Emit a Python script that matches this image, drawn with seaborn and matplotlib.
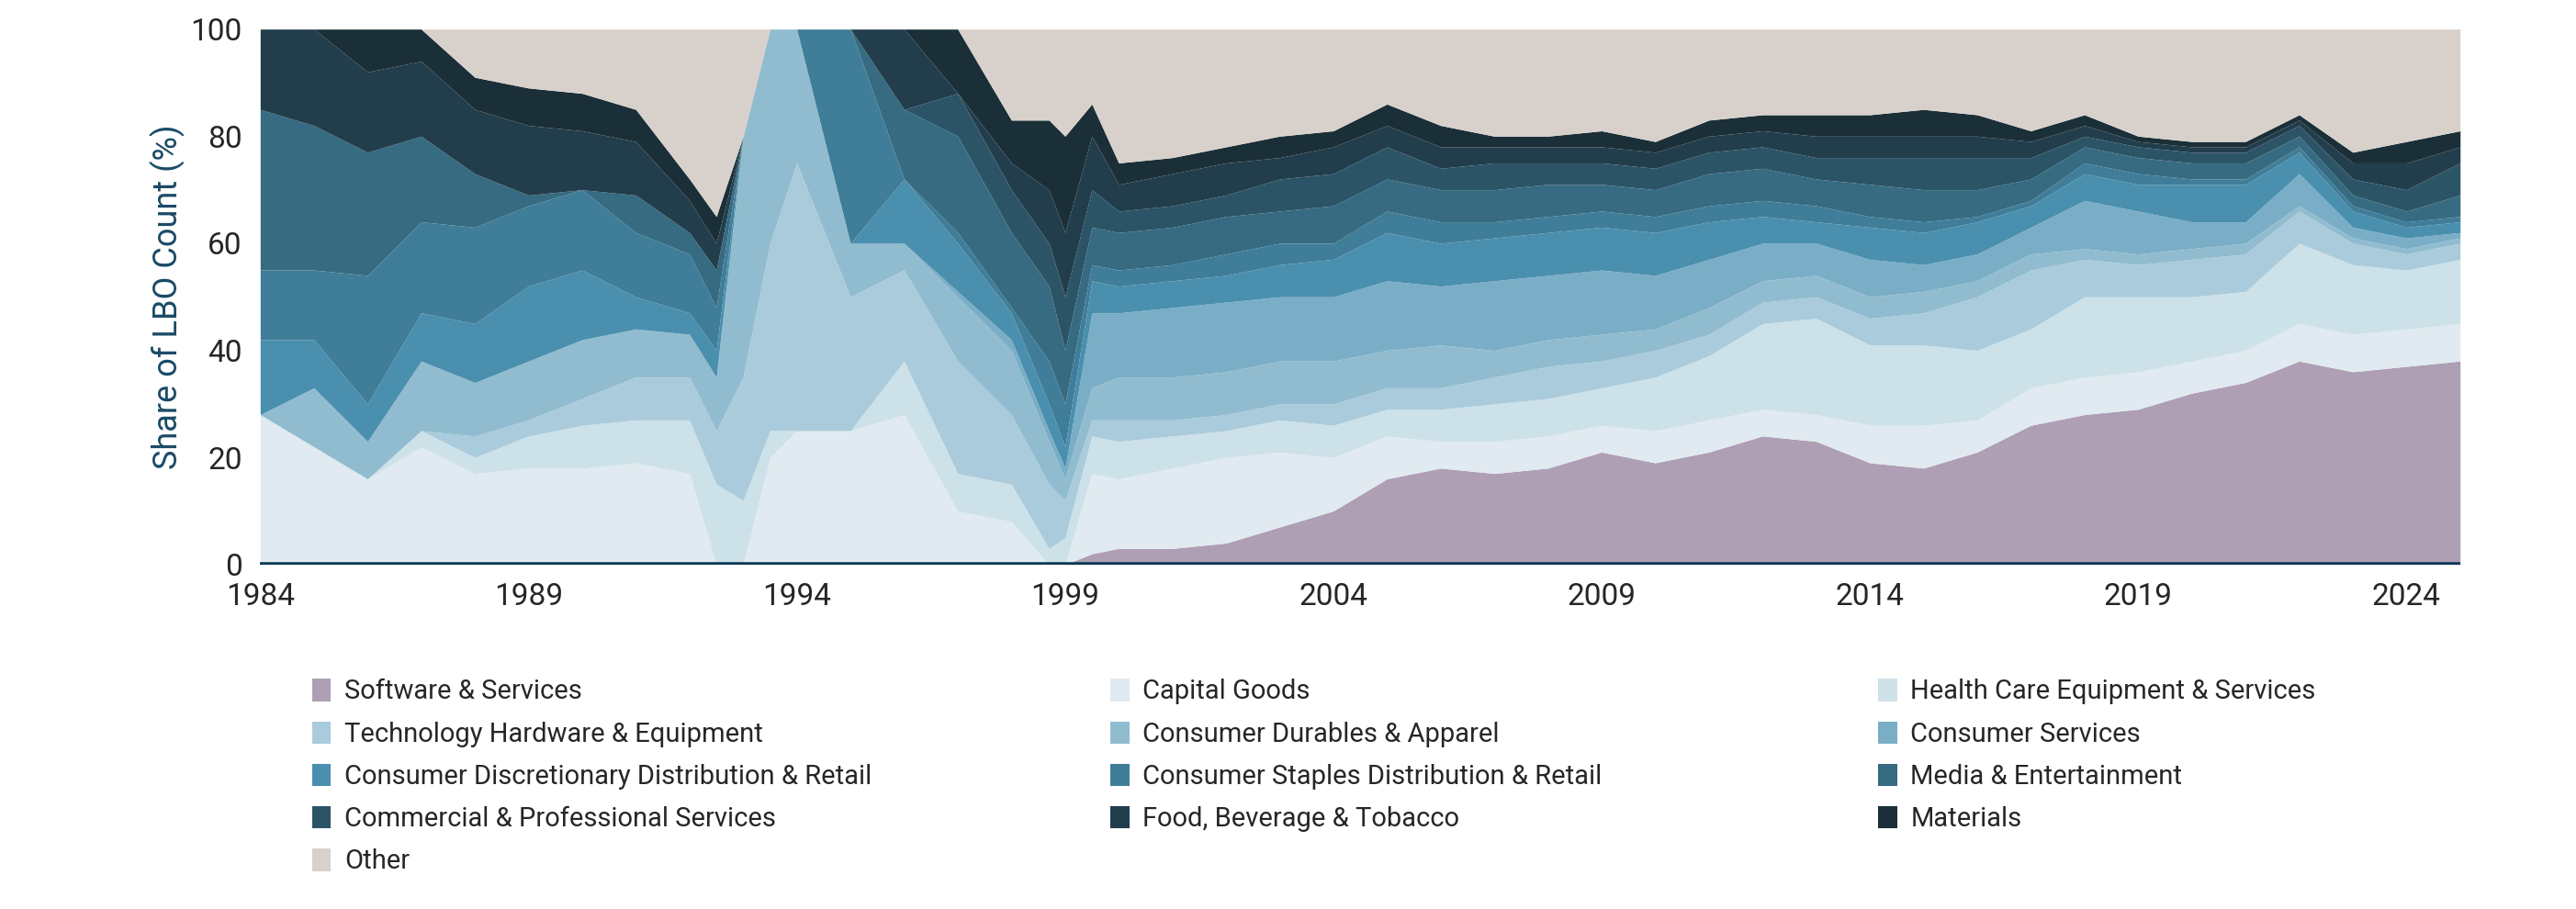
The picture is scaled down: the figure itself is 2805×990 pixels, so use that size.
import numpy as np
import matplotlib
matplotlib.use("Agg")
import matplotlib.pyplot as plt
import seaborn as sns
from matplotlib.patches import Patch

# quarterly-ish sampled dates; each list below is the cumulative top of that sector (% of LBO count)
years = [1984, 1985, 1986, 1987, 1988, 1989, 1990, 1991, 1992, 1992.5, 1993, 1993.5,
         1994, 1995, 1996, 1997, 1998, 1998.7, 1999.0, 1999.5, 2000, 2001, 2002, 2003,
         2004, 2005, 2006, 2007, 2008, 2009, 2010, 2011, 2012, 2013, 2014, 2015, 2016,
         2017, 2018, 2019, 2020, 2021, 2022, 2023, 2024, 2025]

top_software = [0, 0, 0, 0, 0, 0, 0, 0, 0, 0, 0, 0, 0, 0, 0, 0, 0, 0, 0, 2, 3, 3, 4, 7,
                10, 16, 18, 17, 18, 21, 19, 21, 24, 23, 19, 18, 21, 26, 28, 29, 32, 34, 38, 36, 37, 38]
top_capital = [28, 22, 16, 22, 17, 18, 18, 19, 17, 0, 0, 20, 25, 25, 28, 10, 8, 0, 0, 17, 16, 18, 20, 21,
               20, 24, 23, 23, 24, 26, 25, 27, 29, 28, 26, 26, 27, 33, 35, 36, 38, 40, 45, 43, 44, 45]
top_health = [28, 22, 16, 25, 20, 24, 26, 27, 27, 15, 12, 25, 25, 25, 38, 17, 15, 3, 5, 24, 23, 24, 25, 27,
              26, 29, 29, 30, 31, 33, 35, 39, 45, 46, 41, 41, 40, 44, 50, 50, 50, 51, 60, 56, 55, 57]
top_tech = [28, 22, 16, 25, 24, 27, 31, 35, 35, 25, 35, 60, 75, 50, 55, 38, 28, 15, 12, 27, 27, 27, 28, 30,
            30, 33, 33, 35, 37, 38, 40, 43, 49, 50, 46, 47, 50, 55, 57, 56, 57, 58, 66, 60, 58, 60]
top_durables = [28, 33, 23, 38, 34, 38, 42, 44, 43, 35, 80, 100, 100, 60, 60, 50, 40, 23, 16, 33, 35, 35, 36, 38,
                38, 40, 41, 40, 42, 43, 44, 48, 53, 54, 50, 51, 53, 58, 59, 58, 59, 60, 67, 61, 59, 61]
top_services = [28, 33, 23, 38, 34, 38, 42, 44, 43, 35, 80, 100, 100, 60, 60, 51, 42, 25, 18, 47, 47, 48, 49, 50,
                50, 53, 52, 53, 54, 55, 54, 57, 60, 60, 57, 56, 58, 63, 68, 66, 64, 64, 73, 63, 61, 62]
top_disc = [42, 42, 30, 47, 45, 52, 55, 50, 47, 40, 80, 100, 100, 60, 72, 60, 47, 30, 22, 53, 52, 53, 54, 56,
            57, 62, 60, 61, 62, 63, 62, 64, 65, 64, 63, 62, 64, 67, 73, 71, 71, 71, 77, 66, 63, 64]
top_staples = [55, 55, 54, 64, 63, 67, 70, 62, 58, 48, 80, 100, 100, 100, 72, 62, 48, 38, 30, 56, 55, 56, 58, 60,
               60, 66, 64, 64, 65, 66, 65, 67, 68, 67, 65, 64, 65, 68, 75, 73, 72, 72, 78, 67, 64, 65]
top_media = [85, 82, 77, 80, 73, 69, 70, 69, 62, 55, 80, 100, 100, 100, 85, 80, 62, 52, 40, 63, 62, 63, 65, 66,
             67, 72, 70, 70, 71, 71, 70, 73, 74, 72, 71, 70, 70, 72, 78, 76, 75, 75, 80, 69, 66, 69]
top_commercial = [85, 82, 77, 80, 73, 69, 70, 69, 62, 55, 80, 100, 100, 100, 85, 88, 70, 60, 50, 70, 66, 67, 69, 72,
                  73, 78, 74, 75, 75, 75, 74, 77, 78, 76, 76, 76, 76, 76, 80, 78, 77, 77, 82, 72, 70, 75]
top_food = [100, 100, 92, 94, 85, 82, 81, 79, 68, 60, 80, 100, 100, 100, 100, 88, 75, 70, 62, 80, 71, 73, 75, 76,
            78, 82, 78, 78, 78, 78, 77, 80, 81, 80, 80, 80, 80, 79, 82, 79, 78, 78, 83, 75, 75, 78]
top_materials = [100, 100, 100, 100, 91, 89, 88, 85, 72, 65, 80, 100, 100, 100, 100, 100, 83, 83, 80, 86, 75, 76, 78, 80,
                 81, 86, 82, 80, 80, 81, 79, 83, 84, 84, 84, 85, 84, 81, 84, 80, 79, 79, 84, 77, 79, 81]
top_other = [100] * len(years)

sectors = ["Software & Services", "Capital Goods", "Health Care Equipment & Services",
           "Technology Hardware & Equipment", "Consumer Durables & Apparel", "Consumer Services",
           "Consumer Discretionary Distribution & Retail", "Consumer Staples Distribution & Retail",
           "Media & Entertainment", "Commercial & Professional Services", "Food, Beverage & Tobacco",
           "Materials", "Other"]
colors = ["#ae9fb4", "#e0eaf0", "#cde1e9", "#aacbdb", "#91bccf", "#7aaec7", "#4a8fae",
          "#3f7d99", "#366b82", "#2c5467", "#223d4b", "#1b2f38", "#d8d1cb"]
tops = [top_software, top_capital, top_health, top_tech, top_durables, top_services, top_disc,
        top_staples, top_media, top_commercial, top_food, top_materials, top_other]

sns.set_theme(style="white")
plt.rcParams['font.family'] = ['Liberation Sans Narrow', 'Roboto', 'DejaVu Sans']

fig = plt.figure(figsize=(28.05, 9.9), dpi=100)
ax = fig.add_axes([0.101, 0.379, 0.854, 0.589])

lower = np.zeros(len(years))
for top, color in zip(tops, colors):
    top = np.array(top, dtype=float)
    ax.fill_between(years, lower, top, color=color, linewidth=0)
    lower = top

ax.axhline(0, color="#0b3a55", linewidth=4, zorder=5)
ax.set_xlim(1984, 2025)
ax.set_ylim(0, 100)
ax.set_xticks(range(1984, 2025, 5))
ax.set_yticks(range(0, 101, 20))
ax.tick_params(labelsize=24, length=0, pad=14)
ax.set_ylabel("Share of LBO Count (%)", fontsize=26, color="#1a4a66", family=["Roboto", "DejaVu Sans"])
sns.despine(ax=ax, left=True, bottom=True)

# legend laid out row-wise in three columns
handles = [Patch(facecolor=c, edgecolor="none") for c in colors]
col_x = [0.117, 0.427, 0.725]
for i, x in enumerate(col_x):
    idx = list(range(i, len(sectors), 3))
    fig.legend([handles[j] for j in idx], [sectors[j] for j in idx], loc="upper left",
               bbox_to_anchor=(x, 0.265), frameon=False, fontsize=21, handlelength=0.7,
               handleheight=0.9, handletextpad=0.5, labelspacing=0.62, borderaxespad=0)

fig.savefig("out.png", dpi=100)
